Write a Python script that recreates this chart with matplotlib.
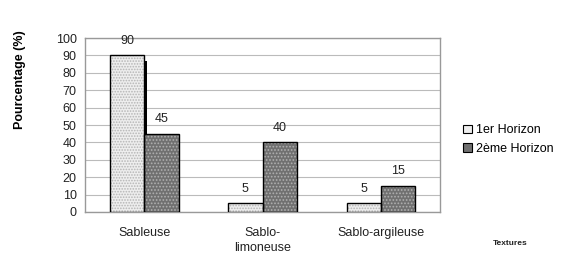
import numpy as np
import matplotlib
matplotlib.use('Agg')
import matplotlib.pyplot as plt

# Données
textures = ['Sableuse', 'Sablo-\nlimoneuse', 'Sablo-argileuse']
horizon1 = [90, 5, 5]
horizon2 = [45, 40, 15]
yticks = list(range(0, 101, 10))

plt.rcParams['font.family'] = ['Liberation Sans', 'DejaVu Sans']
plt.rcParams['hatch.linewidth'] = 0.8

fig = plt.figure(figsize=(5.76, 2.54), dpi=100)
ax = fig.add_axes([0.1476, 0.1654, 0.6164, 0.6846])

x = np.arange(len(textures))
w = 0.29

# remplissage avec motif (couleur du motif = edgecolor), puis contour noir
ax.bar(x - w / 2, horizon1, w, color='#eeeeee', edgecolor='#b5b5b5',
       hatch='......', linewidth=0, zorder=3)
ax.bar(x + w / 2, horizon2, w, color='#707070', edgecolor='#b0b0b0',
       hatch='.....', linewidth=0, zorder=3)
b1 = ax.bar(x - w / 2, horizon1, w, fill=False, edgecolor='black', linewidth=1, zorder=4)
b2 = ax.bar(x + w / 2, horizon2, w, fill=False, edgecolor='black', linewidth=1, zorder=4)

# petite ombre noire à droite de la première barre
ax.bar(x[0] + 0.012, horizon1[0] - 3, 0.03, color='black', zorder=2.5)

for xi, v in zip(x - w / 2, horizon1):
    ax.text(xi, v + 5, str(v), ha='center', va='bottom', fontsize=9, color='#222222')
for xi, v in zip(x + w / 2, horizon2):
    ax.text(xi, v + 5, str(v), ha='center', va='bottom', fontsize=9, color='#222222')

ax.set_xlim(-0.5, 2.5)
ax.set_ylim(0, 100)
ax.set_yticks(yticks)
ax.set_xticks(x)
ax.set_xticklabels(textures, fontsize=9, color='#222222', va='top', linespacing=1.25)
ax.tick_params(axis='y', labelsize=9, colors='#222222', length=0, pad=6)
ax.tick_params(axis='x', length=0, pad=11)
ax.yaxis.grid(True, color='#bbbbbb', linewidth=0.8, zorder=0)
for s in ax.spines.values():
    s.set_color('#999999')
    s.set_linewidth(1)

ax.set_ylabel('Pourcentage (%)', fontsize=9, fontweight='bold')
ax.yaxis.set_label_coords(-0.165, 0.76)

# légende avec les motifs
h1 = plt.Rectangle((0, 0), 1, 1, facecolor='#eeeeee', edgecolor='black', linewidth=0.8)
h2 = plt.Rectangle((0, 0), 1, 1, facecolor='#707070', edgecolor='black', linewidth=0.8)
fig.legend([h1, h2], ['1er Horizon', '2ème Horizon'], loc='center left',
           bbox_to_anchor=(0.785, 0.45), frameon=False, fontsize=9,
           handlelength=0.7, handleheight=0.7, handletextpad=0.3, labelspacing=0.55)

fig.text(0.885, 0.035, 'Textures', fontsize=6, fontweight='bold', ha='center', color='#222222')

fig.savefig('out.png', dpi=100)
